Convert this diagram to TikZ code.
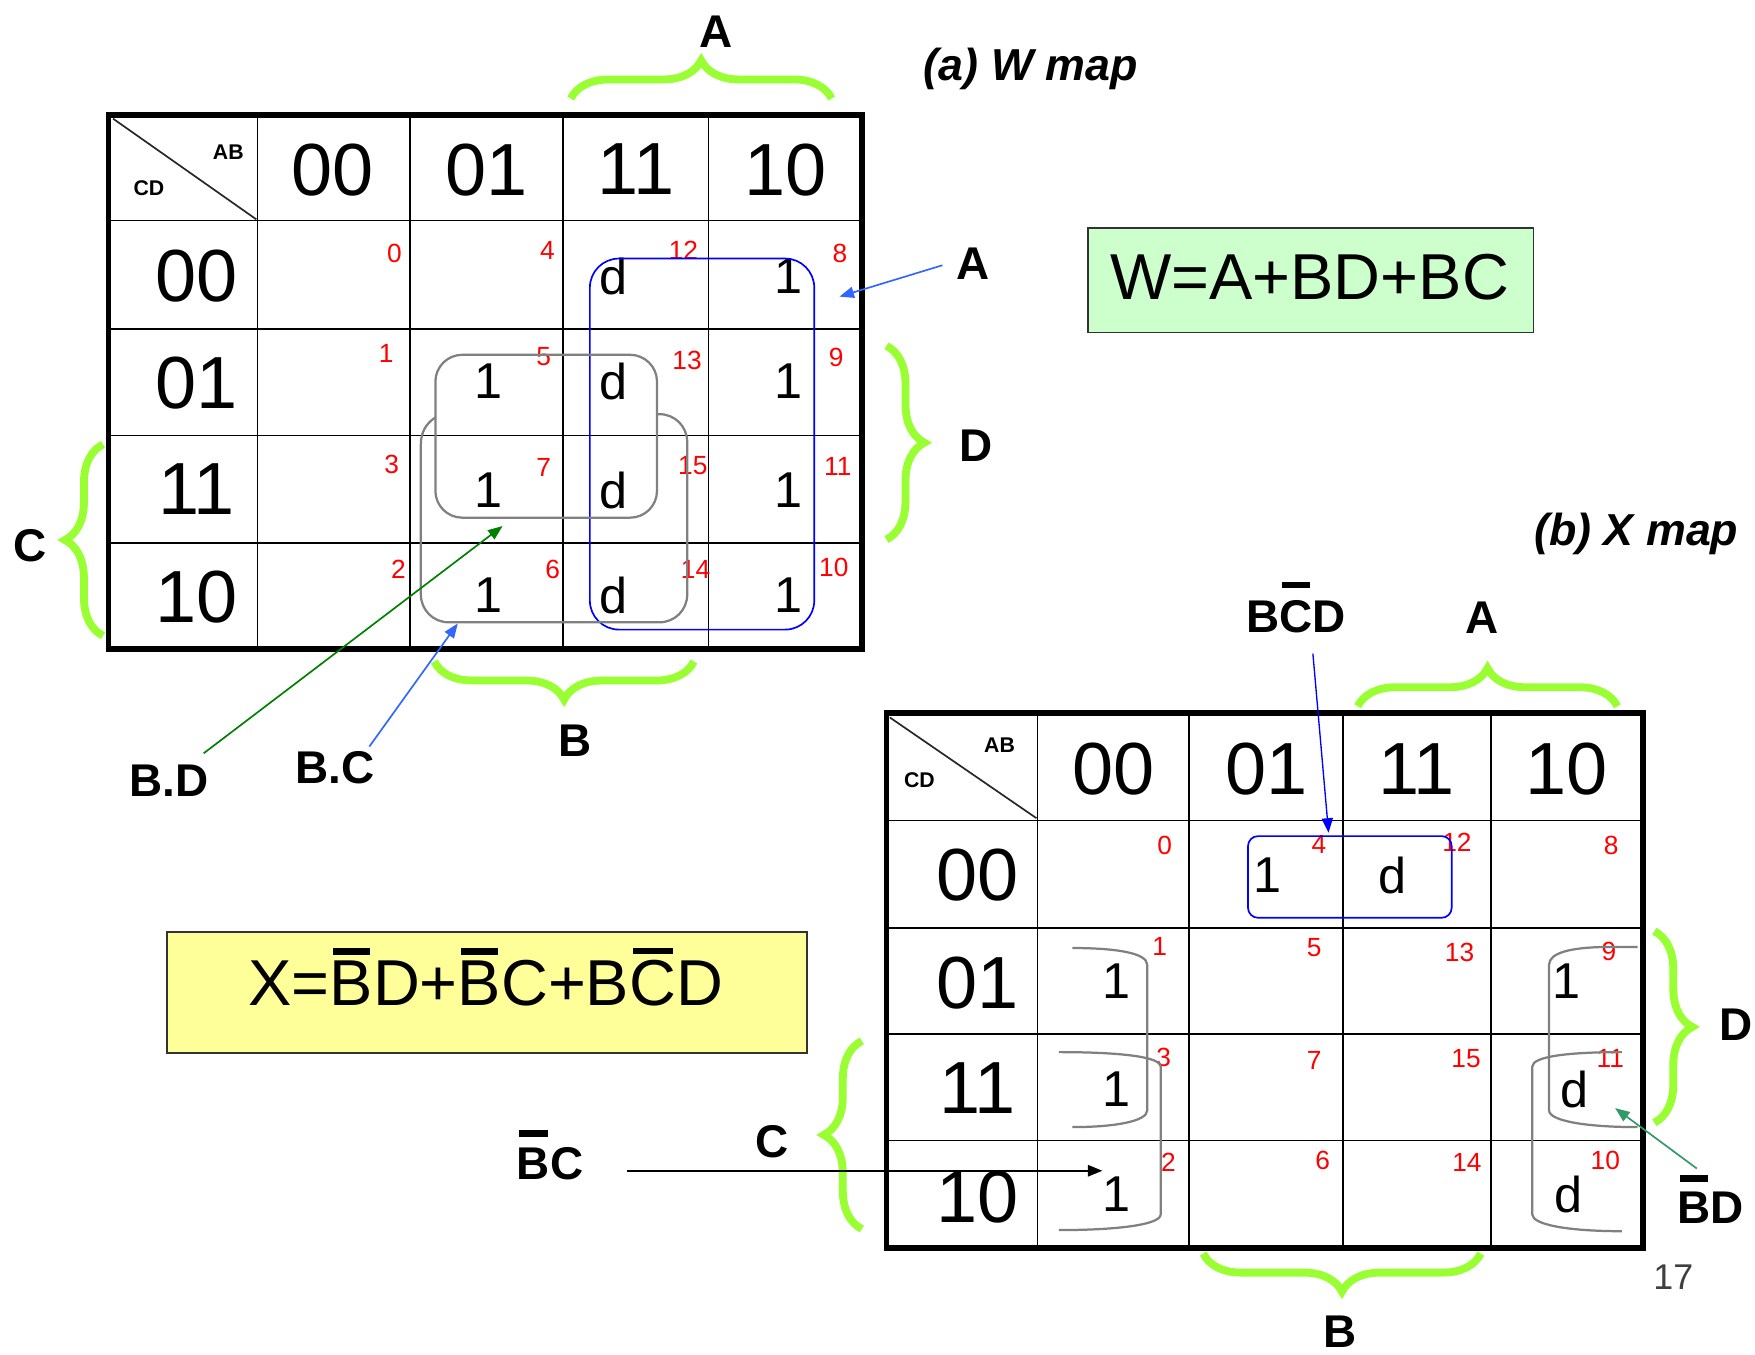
\documentclass[tikz,border=0pt]{standalone}
\usepackage{fontspec}
\setmainfont{Liberation Sans}
\usetikzlibrary{decorations.pathreplacing,arrows.meta}
\definecolor{bracegreen}{RGB}{153,255,51}
\definecolor{grpblue}{RGB}{0,0,255}
\definecolor{arrblue}{RGB}{51,102,255}
\definecolor{arrgreen}{RGB}{0,128,0}
\definecolor{arrteal}{RGB}{51,153,102}
\definecolor{grpgray}{RGB}{128,128,128}
\definecolor{eqgreen}{RGB}{204,255,204}
\definecolor{eqyellow}{RGB}{255,255,153}
\definecolor{boxline}{RGB}{51,51,51}
\definecolor{pagegray}{RGB}{64,64,64}
\newcommand\ob[3]{\setbox0=\hbox{#3}\leavevmode\rlap{\hbox to\wd0{\hss\vrule height\dimexpr\ht0+#1+#2\relax depth-\dimexpr\ht0+#2\relax width.85\wd0\hss}}\box0}
\begin{document}
\begin{tikzpicture}[x=1pt,y=-1pt,
  every node/.style={inner sep=0pt,outer sep=0pt},
  big/.style={font=\fontsize{66}{66}\selectfont},
  val/.style={font=\fontsize{45}{45}\selectfont},
  idx/.style={font=\fontsize{23.5}{24}\selectfont,text=red},
  hdr/.style={font=\fontsize{19}{19}\selectfont\bfseries},
  lab/.style={font=\fontsize{41}{41}\selectfont\bfseries,anchor=base},
  ttl/.style={font=\fontsize{40}{40}\selectfont\bfseries\itshape,anchor=base},
  eqtext/.style={font=\fontsize{58}{58}\selectfont,anchor=base},
  gridline/.style={line width=1.6pt},
  outerline/.style={line width=5pt},
  diagline/.style={line width=1.5pt,black!85},
  gbrace/.style={draw=bracegreen,line width=7pt,decorate,decoration={brace,amplitude=34pt}},
  bluegrp/.style={draw=grpblue,line width=1.5pt},
  graygrp/.style={draw=grpgray,line width=2pt},
  arr/.style={line width=1.5pt,-{Triangle[length=13pt,width=10pt]}},
  eqbox/.style={draw=boxline,line width=1.6pt},
]
\path[use as bounding box,fill=white] (0,0) rectangle (1568,1210);

% ================= W map =================
\draw[gridline] (230,103) -- (230,580) (366,103) -- (366,580) (503,103) -- (503,580) (633,103) -- (633,580);
\draw[gridline] (97,197) -- (770,197) (97,294) -- (770,294) (97,389) -- (770,389) (97,485) -- (770,485);
\draw[diagline] (101,106) -- (229,196);
\draw[outerline] (97,103) rectangle (770,580);
\node[hdr] (wab) at (204,136) {AB};
\node[hdr] (wcd) at (133,168) {CD};
\node[big] (wh00) at (297,151.5) {00};
\node[big] (wh01) at (435,151.5) {01};
\node[big] (wh11) at (568.5,151.5) {11};
\node[big] (wh10) at (702,151.5) {10};
\node[big] (wr00) at (175.5,247) {00};
\node[big] (wr01) at (175.5,342) {01};
\node[big] (wr11) at (175.5,437) {11};
\node[big] (wr10) at (175.5,533) {10};
\foreach \n/\x/\y in {0/352.5/226,4/489/223.5,12/610.6/223.4,8/750.5/226,
  1/345/316,5/485.8/318.4,13/613.8/322,9/747/319.7,
  3/350/414.6,7/485.8/418,15/619/416.4,11/748.5/416.4,
  2/356/508.9,6/493.8/508.9,14/621.4/508.9,10/745/506.6}
  \node[idx] (wi\n) at (\x,\y) {\n};
\foreach \t/\x/\y/\k in {d/548/247/12,1/704.7/247/8,
  1/436.7/341/5,d/548/341/13,1/704.7/341/9,
  1/436.7/438/7,d/548/438/15,1/704.7/438/11,
  1/436.7/532/6,d/548/532/14,1/704.7/532/10}
  \node[val] (wv\k) at (\x,\y) {\t};
% groups
\draw[bluegrp,rounded corners=26pt] (527,231) rectangle (727.5,562.5);
\draw[graygrp,rounded corners=24pt] (389,317) rectangle (587,462.5);
\draw[graygrp] (389,373) .. controls (381,378) and (376,386) .. (376,397) -- (376,531)
  .. controls (376,545) and (387,556) .. (401,556) -- (589,556)
  .. controls (603,556) and (614,545) .. (614,531) -- (614,395)
  .. controls (614,381) and (603,370) .. (589,370) -- (587,370);
% braces
\draw[gbrace] (510,88) -- (743,88);
\draw[gbrace] (792,309) -- (792,482);
\draw[gbrace] (92,568) -- (92,397);
\draw[gbrace] (620,591) -- (388,591);
% labels
\node[lab] (wA) at (640,42) {A};
\node[lab] (wD) at (872,412) {D};
\node[lab] (wC) at (27,501.5) {C};
\node[lab] (wB) at (514,676) {B};
\node[lab] (wAl) at (869,250) {A};
\node[lab] (wBD) at (151,712) {B.D};
\node[lab] (wBC) at (299.5,700) {B.C};
\node[ttl] (wtitle) at (921,72) {(a) W map};
% arrows
\coordinate (aSt) at (842,237);
\coordinate (aTp) at (750,265);
\coordinate (bdSt) at (182,673);
\coordinate (bdTp) at (449,470);
\coordinate (bcSt) at (330,667);
\coordinate (bcTp) at (409,557);
\draw[arr,arrblue] (aSt) -- (aTp);
\draw[arr,arrgreen] (bdSt) -- (bdTp);
\draw[arr,arrblue] (bcSt) -- (bcTp);
% equation
\draw[eqbox,fill=eqgreen] (972,204) rectangle (1370,297);
\node[eqtext] (weq) at (1170,268) {W=A+BD+BC};

% ================= X map =================
\draw[gridline] (927,637) -- (927,1115) (1062,637) -- (1062,1115) (1200,637) -- (1200,1115) (1332,637) -- (1332,1115);
\draw[gridline] (792,733) -- (1468,733) (792,829) -- (1468,829) (792,924) -- (1468,924) (792,1019) -- (1468,1019);
\draw[diagline] (795,641) -- (926,731);
\draw[outerline] (792,637) rectangle (1468,1115);
\node[hdr] (xab) at (893,666) {AB};
\node[hdr] (xcd) at (821.5,697) {CD};
\node[big] (xh00) at (994.5,687) {00};
\node[big] (xh01) at (1131.5,687) {01};
\node[big] (xh11) at (1265.5,687) {11};
\node[big] (xh10) at (1400,687) {10};
\node[big] (xr00) at (873.5,782) {00};
\node[big] (xr01) at (873.5,878) {01};
\node[big] (xr11) at (873.5,972) {11};
\node[big] (xr10) at (873.5,1069.5) {10};
\foreach \n/\x/\y in {0/1040.5/755.6,4/1178.3/754.6,12/1301.7/753,8/1439.6/755.6,
  1/1036/845.5,5/1174.2/847,13/1304/851.3,9/1437.4/850.4,
  3/1039.6/944.4,7/1174.2/947.7,15/1309.8/946,11/1438.7/946,
  2/1044/1038.6,6/1181.8/1037,14/1310.6/1038.6,10/1434.3/1036.4}
  \node[idx] (xi\n) at (\x,\y) {\n};
\foreach \t/\x/\y/\k in {1/1132.7/782/4,d/1244.5/782/12,
  1/997.7/877/1,1/1399.7/877/9,
  1/997.7/973/3,d/1407/973/11,
  1/997.7/1067/2,d/1401/1067/10}
  \node[val] (xv\k) at (\x,\y) {\t};
% groups
\draw[bluegrp,rounded corners=9pt] (1115,747) rectangle (1297,820);
\draw[graygrp] (958,847) .. controls (995,847) and (1025,851) .. (1025,862) -- (1025,992)
  .. controls (1025,1002) and (995,1007) .. (958,1007);
\draw[graygrp] (946,940) .. controls (1000,940) and (1037,944) .. (1037,953) -- (1037,1085)
  .. controls (1037,1094) and (1000,1099) .. (946,1099);
\draw[graygrp] (1463,846) -- (1440,846) .. controls (1404,846) and (1384,851) .. (1384,862) -- (1384,992)
  .. controls (1384,1002) and (1420,1007) .. (1463,1007);
\draw[graygrp] (1449,940) .. controls (1400,940) and (1369,944) .. (1369,953) -- (1369,1085)
  .. controls (1369,1094) and (1400,1100) .. (1449,1100);
% braces
\draw[gbrace] (1213,631) -- (1445,631);
\draw[gbrace] (1478,832) -- (1478,1003);
\draw[gbrace] (770,1098) -- (770,930);
\draw[gbrace] (1323,1120) -- (1075,1120);
% labels
\node[lab] (xBCD) at (1158,565) {B\ob{.13em}{.27em}{C}D};
\node[lab] (xA) at (1324,566) {A};
\node[lab] (xD) at (1551,930) {D};
\node[lab] (xC) at (690,1034) {C};
\node[lab] (xB) at (1197,1204) {B};
\node[lab] (xnBC) at (491.5,1054) {\ob{.14em}{.25em}{B}C};
\node[lab] (xnBD) at (1528.5,1093) {\ob{.14em}{.22em}{B}D};
\node[ttl] (xtitle) at (1462,487) {(b) X map};
% arrows
\coordinate (xcSt) at (1173,584);
\coordinate (xcTp) at (1187,744);
\coordinate (xbcSt) at (560,1046);
\coordinate (xbcTp) at (985,1046);
\coordinate (xbdSt) at (1516,1044);
\coordinate (xbdTp) at (1443,990);
\draw[arr,grpblue,line width=1.2pt] (xcSt) -- (xcTp);
\draw[arr,black,line width=2pt] (xbcSt) -- (xbcTp);
\draw[arr,arrteal] (xbdSt) -- (xbdTp);
% equation
\draw[eqbox,fill=eqyellow] (149,833) rectangle (721,941);
\node[eqtext] (xeq) at (434,898) {X=\ob{.095em}{.09em}{B}D+\ob{.095em}{.09em}{B}C+B\ob{.095em}{.09em}{C}D};
\node[font=\fontsize{32}{32}\selectfont,text=pagegray] (pg) at (1495,1141.5) {17};
\end{tikzpicture}
\end{document}
